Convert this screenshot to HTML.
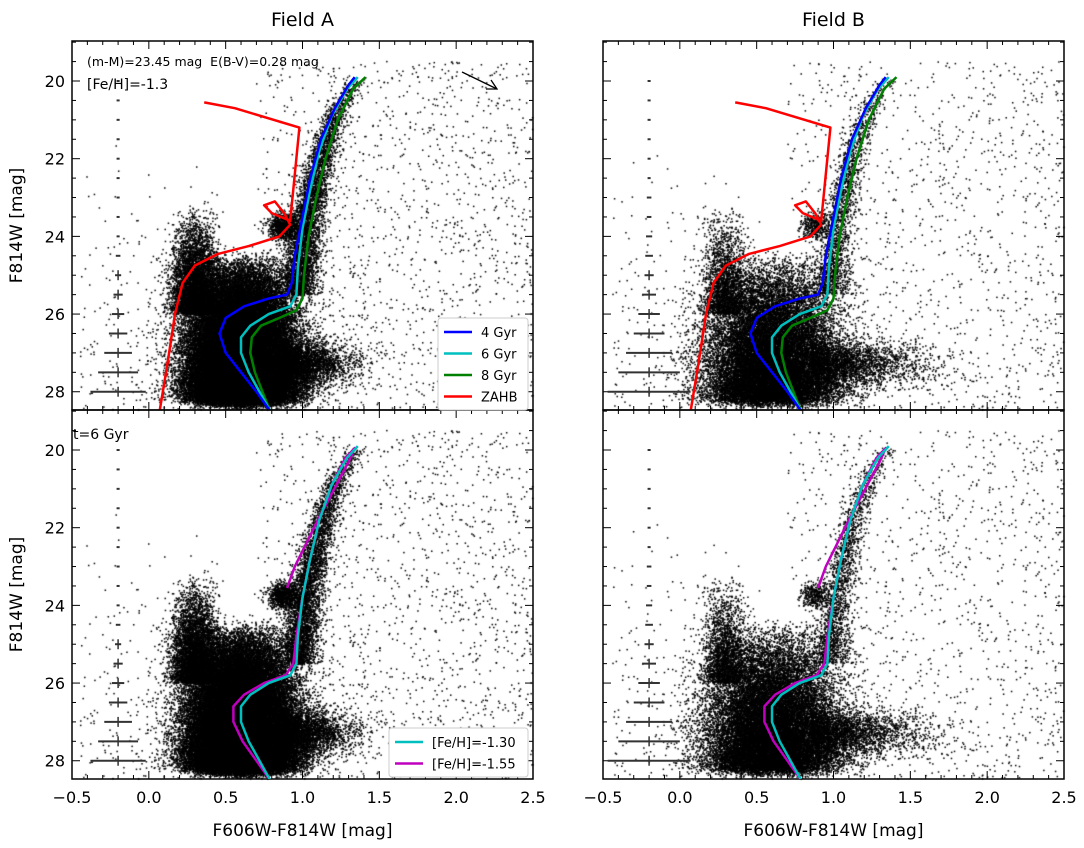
<!DOCTYPE html>
<html><head><meta charset="utf-8"><style>
body{margin:0;background:#fff;width:1084px;height:848px;overflow:hidden;font-family:"DejaVu Sans","Liberation Sans",sans-serif}
#wrap{position:relative;width:1084px;height:848px}
canvas,svg{position:absolute;left:0;top:0}
text{white-space:pre}
</style></head><body>
<div id="wrap">
<canvas id="cv" width="1084" height="848"></canvas>
<svg id="sv" width="1084" height="848" xmlns="http://www.w3.org/2000/svg"></svg>
</div>
<script>
// ---- data ----
const xTicks=[-0.5,0.0,0.5,1.0,1.5,2.0,2.5];
const xTickLabels=["\u22120.5","0.0","0.5","1.0","1.5","2.0","2.5"];
const yTicks=[20,22,24,26,28];
const iso4Col=[0.79,0.70,0.60,0.50,0.46,0.50,0.62,0.78,0.90,0.93,0.95,1.00,1.05,1.12,1.21,1.30,1.34];
const iso4Mag=[28.5,28.0,27.5,27.0,26.5,26.1,25.8,25.6,25.5,25.2,24.5,23.5,22.5,21.5,20.7,20.1,19.9];
const iso6Col=[0.79,0.72,0.65,0.60,0.60,0.66,0.78,0.92,0.96,0.97,1.00,1.05,1.11,1.19,1.29,1.36];
const iso6Mag=[28.5,28.0,27.5,27.0,26.6,26.3,26.0,25.8,25.5,24.8,23.8,22.8,21.8,20.9,20.2,19.9];
const iso8Col=[0.79,0.74,0.69,0.66,0.67,0.73,0.85,0.96,1.00,1.01,1.04,1.09,1.15,1.23,1.33,1.41];
const iso8Mag=[28.5,28.0,27.5,27.0,26.6,26.3,26.1,25.9,25.6,25.0,24.0,23.0,22.0,21.0,20.2,19.9];
const zahbCol=[0.07,0.12,0.17,0.22,0.30,0.45,0.65,0.85,0.92,0.88,0.82,0.75,0.80,0.92,0.95,0.98,0.56,0.36];
const zahbMag=[28.5,27.3,26.0,25.2,24.75,24.45,24.25,24.0,23.7,23.4,23.1,23.2,23.4,23.6,22.4,21.2,20.7,20.55];
const feh155Col=[0.79,0.70,0.61,0.55,0.55,0.62,0.75,0.89,0.94,0.96,1.00,1.05,1.11,1.19,1.28,1.34,1.30,1.10,0.95,0.90];
const feh155Mag=[28.5,28.0,27.5,27.0,26.6,26.3,26.0,25.8,25.5,24.8,23.8,22.8,21.8,20.9,20.2,19.95,20.3,21.8,23.0,23.55];
const errMags=[20,20.5,21,21.5,22,22.5,23,23.5,24,24.5,25,25.5,26,26.5,27,27.5,28];
const errA=[0.01,0.01,0.01,0.01,0.01,0.01,0.01,0.01,0.01,0.015,0.02,0.03,0.04,0.06,0.09,0.13,0.18];
const errB=[0.01,0.01,0.01,0.01,0.01,0.01,0.015,0.015,0.02,0.025,0.03,0.045,0.07,0.1,0.15,0.2,0.27];

// ---- layout ----
const panels=[
 {x0:72,y0:41,name:'field-a-top',field:'A',top:true,left:true},
 {x0:603,y0:41,name:'field-b-top',field:'B',top:true,left:false},
 {x0:72,y0:410,name:'field-a-bottom',field:'A',top:false,left:true},
 {x0:603,y0:410,name:'field-b-bottom',field:'B',top:false,left:false}];
const W=461,H=369,XMIN=-0.5,XMAX=2.5,YMIN=18.97,YMAX=28.47;
function px(p,c){return p.x0+(c-XMIN)/(XMAX-XMIN)*W;}
function py(p,m){return p.y0+(m-YMIN)/(YMAX-YMIN)*H;}
const NS='http://www.w3.org/2000/svg';
const sv=document.getElementById('sv');
function el(tag,attrs,parent,text){const e=document.createElementNS(NS,tag);for(const k in attrs)e.setAttribute(k,attrs[k]);if(text!==undefined)e.textContent=text;(parent||sv).appendChild(e);return e;}
function interp(cols,mags,m){for(let i=0;i<mags.length-1;i++){const a=mags[i],b=mags[i+1];if((m<=a&&m>=b)||(m>=a&&m<=b)){const t=(m-a)/(b-a||1);return cols[i]+t*(cols[i+1]-cols[i]);}}return cols[cols.length-1];}

// ---- scatter (seeded, mulberry32) ----
const cv=document.getElementById('cv');const ctx=cv.getContext('2d');
let st=1;
function rnd(){st|=0;st=st+0x6D2B79F5|0;let t=Math.imul(st^st>>>15,1|st);t=t+Math.imul(t^t>>>7,61|t)^t;return((t^t>>>14)>>>0)/4294967296;}
function gauss(){let u=rnd()||1e-9,v=rnd();return Math.sqrt(-2*Math.log(u))*Math.cos(2*Math.PI*v);}
function stars(field){
 st=field==='A'?777:999;const pts=[];const A=field==='A';const s=A?1:0.4;
 const nBlob=Math.round(58000*s);
 for(let i=0;i<nBlob;i++){const m=24.4+3.85*Math.pow(rnd(),0.45)+gauss()*0.1;const c=0.6+gauss()*(A?0.17:0.21);pts.push([c,m]);}
 const nTail=Math.round((A?3000:2500));
 for(let i=0;i<nTail;i++){pts.push([0.85+Math.abs(gauss())*(A?0.22:0.35),27.3+gauss()*0.3]);}
 const nPl=Math.round(5000*s);
 for(let i=0;i<nPl;i++){const m=23.1+2.9*Math.pow(rnd(),0.4);pts.push([0.3+gauss()*0.07,m]);}
 const nRGB=Math.round(4500*s);
 for(let i=0;i<nRGB;i++){const m=19.9+Math.pow(rnd(),0.6)*5.6;pts.push([interp(iso6Col,iso6Mag,m)+0.02+gauss()*(0.035+(m-20)*0.005),m]);}
 const nRC=Math.round(900*s);
 for(let i=0;i<nRC;i++){pts.push([0.88+gauss()*0.05,23.75+gauss()*0.18]);}
 const nF=A?1400:1100;
 for(let i=0;i<nF;i++){const c=0.7+Math.pow(rnd(),0.8)*1.85;const m=19.5+rnd()*9;pts.push([c,m]);}
 const nW=A?250:200;
 for(let i=0;i<nW;i++){pts.push([-0.45+rnd()*0.9,21.5+Math.pow(rnd(),0.5)*7]);}
 return pts;}
const starA=stars('A'),starB=stars('B');
ctx.fillStyle='#000';
panels.forEach(p=>{const pts=p.field==='A'?starA:starB;
 for(const [c,m] of pts){if(c<XMIN||c>XMAX||m<YMIN||m>YMAX)continue;ctx.fillRect(px(p,c)-0.75,py(p,m)-0.75,1.5,1.5);}});

// ---- overlays ----
panels.forEach(p=>{
 const g=el('g',{});
 const clip=el('clipPath',{id:'c'+p.name},sv);el('rect',{x:p.x0,y:p.y0,width:W,height:H},clip);
 const lg=el('g',{'clip-path':'url(#c'+p.name+')',});
 const errs=p.field==='A'?errA:errB;
 errMags.forEach((m,i)=>{const x=px(p,-0.2),y=py(p,m);
  el('line',{x1:px(p,-0.2-errs[i]),x2:px(p,-0.2+errs[i]),y1:y,y2:y,stroke:'#333','stroke-width':2,},lg);
  if(m>=25)el('line',{x1:x,x2:x,y1:y-5,y2:y+5,stroke:'#333','stroke-width':1.5,},lg);});
 function L(cols,mags,color,name){let d='';for(let i=0;i<cols.length;i++)d+=(i?'L':'M')+px(p,cols[i]).toFixed(1)+' '+py(p,mags[i]).toFixed(1);
  el('path',{d:d,fill:'none',stroke:color,'stroke-width':2.5,'stroke-linejoin':'round',},lg);}
 if(p.top){L(zahbCol,zahbMag,'#ff0000','zahb-line');L(iso8Col,iso8Mag,'#008000','isochrone-8gyr');L(iso6Col,iso6Mag,'#00bfbf','isochrone-6gyr');L(iso4Col,iso4Mag,'#0000ff','isochrone-4gyr');}
 else{L(feh155Col,feh155Mag,'#bf00bf','isochrone-feh-155');L(iso6Col,iso6Mag,'#00bfbf','isochrone-feh-130');}
 el('rect',{x:p.x0,y:p.y0,width:W,height:H,fill:'none',stroke:'#000','stroke-width':1.5,},g);
 for(let k=-5;k<=25;k++){const v=k/10,x=px(p,v);const major=(k%5===0);const len=major?8:4;
  el('line',{x1:x,x2:x,y1:p.y0+H,y2:p.y0+H-len,stroke:'#000','stroke-width':1,},g);
  el('line',{x1:x,x2:x,y1:p.y0,y2:p.y0+len,stroke:'#000','stroke-width':1,},g);}
 if(!p.top)xTicks.forEach((v,i)=>el('text',{x:px(p,v),y:p.y0+H+24,'text-anchor':'middle','font-size':16,},g,xTickLabels[i]));
 for(let m=19;m<=28.4;m+=0.5){const y=py(p,m);const major=(Math.abs(m%2)<0.01);const len=major?8:4;
  el('line',{x1:p.x0,x2:p.x0+len,y1:y,y2:y,stroke:'#000','stroke-width':1,},g);
  el('line',{x1:p.x0+W,x2:p.x0+W-len,y1:y,y2:y,stroke:'#000','stroke-width':1,},g);}
 if(p.left)yTicks.forEach(v=>el('text',{x:p.x0-7,y:py(p,v)+6,'text-anchor':'end','font-size':16,},g,String(v)));
 if(p.left)el('text',{x:22,y:p.y0+H/2,'text-anchor':'middle','font-size':17,transform:'rotate(-90 22 '+(p.y0+H/2)+')',},g,'F814W [mag]');
 if(!p.top)el('text',{x:p.x0+W/2,y:836,'text-anchor':'middle','font-size':17,},g,'F606W-F814W [mag]');
 if(p.top)el('text',{x:p.x0+W/2,y:26,'text-anchor':'middle','font-size':19,},g,p.field==='A'?'Field A':'Field B');
});
el('text',{x:87,y:66,'font-size':12.5,'xml:space':'preserve'},sv,'(m-M)=23.45 mag  E(B-V)=0.28 mag');
el('text',{x:87,y:89,'font-size':14,},sv,'[Fe/H]=-1.3');
el('text',{x:73,y:439,'font-size':14,},sv,'t=6 Gyr');
el('line',{x1:462,y1:72,x2:497,y2:89,stroke:'#000','stroke-width':1.3,},sv);
el('path',{d:'M486,89 L497,89 L491,80',fill:'none',stroke:'#000','stroke-width':1.3,},sv);
function legend(x,y,w,entries,name){const g=el('g',{});
 el('rect',{x:x,y:y,width:w,height:entries.length*21.5+6,fill:'#fff',stroke:'#ccc',rx:3},g);
 entries.forEach((e,i)=>{const yy=y+14+i*21.5;
  el('line',{x1:x+6,x2:x+34,y1:yy,y2:yy,stroke:e[1],'stroke-width':2.5,},g);
  el('text',{x:x+43,y:yy+5,'font-size':13,},g,e[0]);});}
legend(438,318,90,[['4 Gyr','#0000ff'],['6 Gyr','#00bfbf'],['8 Gyr','#008000'],['ZAHB','#ff0000']],'legend-ages');
legend(389,728,139,[['[Fe/H]=-1.30','#00bfbf'],['[Fe/H]=-1.55','#bf00bf']],'legend-metallicity');
</script>
</body></html>
